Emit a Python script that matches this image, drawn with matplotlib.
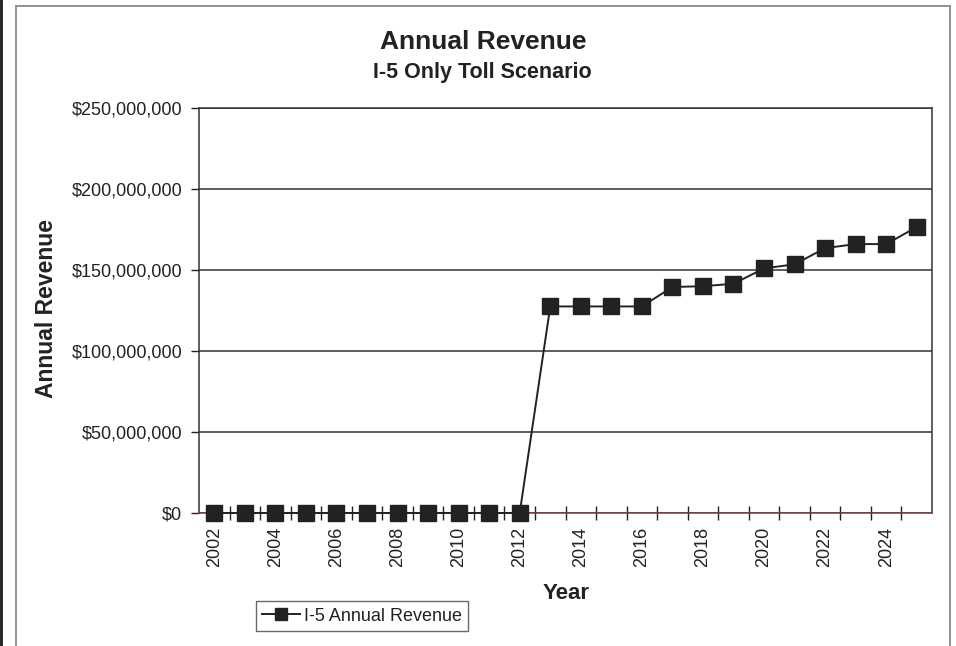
import numpy as np
import matplotlib.pyplot as plt
from matplotlib.ticker import FuncFormatter, FixedLocator
from matplotlib.lines import Line2D
from matplotlib.patches import Rectangle

plt.rcParams['font.family'] = ['Liberation Sans', 'DejaVu Sans']

years = list(range(2002, 2026))
revenue = [0, 0, 0, 0, 0, 0, 0, 0, 0, 0, 0,
           127.5e6, 127.5e6, 127.5e6, 127.5e6,
           139.5e6, 140e6, 141.5e6, 151e6, 153.5e6,
           163.5e6, 166e6, 166e6, 176.5e6]
label_years = [str(y) for y in years[::2]]

fig = plt.figure(figsize=(9.56, 6.46), dpi=100)
ax = fig.add_axes([0.2082, 0.2059, 0.7667, 0.6269])

ink = '#222222'
x = np.arange(len(years))
ax.plot(x, revenue, color=ink, lw=1.4, marker='s', markersize=11.5,
        markerfacecolor=ink, markeredgecolor=ink, label='I-5 Annual Revenue',
        zorder=3, clip_on=False)

ax.set_xlim(-0.5, len(years) - 0.5)
ax.set_ylim(0, 250e6)

# category axis: ticks sit between years, labels on every other year
ax.xaxis.set_major_locator(FixedLocator(x[::2]))
ax.set_xticklabels(label_years, rotation=90, fontsize=13, color=ink)
ax.xaxis.set_minor_locator(FixedLocator(np.arange(0.5, len(years) - 0.5, 1)))
ax.tick_params(axis='x', which='major', length=0, pad=10)
ax.tick_params(axis='x', which='minor', direction='inout', length=10,
               width=1, color=ink)

ax.set_yticks(np.arange(0, 250e6 + 1, 50e6))
ax.yaxis.set_major_formatter(FuncFormatter(lambda v, p: '${:,.0f}'.format(v)))
ax.tick_params(axis='y', direction='out', length=6, width=1, color=ink,
               labelsize=13, labelcolor=ink, pad=6)
ax.grid(axis='y', color='#333333', lw=1.1)
ax.set_axisbelow(True)

for s in ['left', 'right', 'top']:
    ax.spines[s].set_color('#333333')
    ax.spines[s].set_linewidth(1.1)
ax.spines['bottom'].set_color('#7a3b3b')
ax.spines['bottom'].set_linewidth(1.1)

fig.text(0.505, 0.935, 'Annual Revenue', ha='center', va='center',
         fontsize=19, fontweight='bold', color=ink)
fig.text(0.505, 0.888, 'I-5 Only Toll Scenario', ha='center', va='center',
         fontsize=15.5, fontweight='bold', color=ink)
fig.text(0.049, 0.522, 'Annual Revenue', rotation=90, ha='center', va='center',
         fontsize=16.5, fontweight='bold', color=ink)
fig.text(0.592, 0.082, 'Year', ha='center', va='center',
         fontsize=16, fontweight='bold', color=ink)

handle = Line2D([], [], color=ink, lw=1.4, marker='s', markersize=8,
                markerfacecolor=ink, markeredgecolor=ink)
leg = fig.legend([handle], ['I-5 Annual Revenue'], loc='center',
                 bbox_to_anchor=(0.3787, 0.0464), fontsize=13, frameon=True,
                 fancybox=False, handlelength=2.1, handletextpad=0.2,
                 borderpad=0.35, borderaxespad=0)
leg.get_frame().set_edgecolor('#444444')
leg.get_frame().set_linewidth(1.0)
for t in leg.get_texts():
    t.set_color(ink)

# outer chart border and dark left edge
fig.add_artist(Line2D([16 / 956, 16 / 956], [0, 1 - 6 / 646],
                      transform=fig.transFigure, color='#8a8a8a', lw=1.3))
fig.add_artist(Line2D([16 / 956, 950 / 956], [1 - 6 / 646, 1 - 6 / 646],
                      transform=fig.transFigure, color='#8a8a8a', lw=1.3))
fig.add_artist(Line2D([950 / 956, 950 / 956], [0, 1 - 6 / 646],
                      transform=fig.transFigure, color='#8a8a8a', lw=1.3))
fig.add_artist(Rectangle((0, 0), 3 / 956, 1, transform=fig.transFigure,
                         color='#2a2a2a', lw=0))

fig.savefig('out.png', dpi=100)
